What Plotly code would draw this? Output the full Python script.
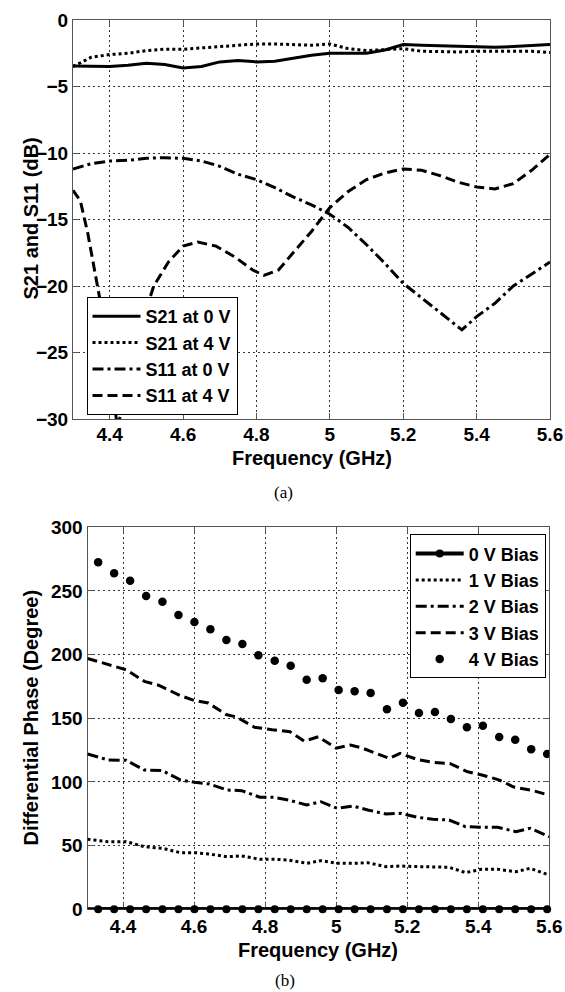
import plotly.graph_objects as go

# ---------------- Panel (a) data ----------------
f_s21_0v = [4.30, 4.35, 4.40, 4.45, 4.50, 4.55, 4.60, 4.65, 4.70, 4.75, 4.80, 4.85, 4.90, 4.95,
            5.00, 5.05, 5.10, 5.15, 5.20, 5.25, 5.30, 5.35, 5.40, 5.45, 5.50, 5.55, 5.60]
s21_0v = [-3.45, -3.5, -3.5, -3.4, -3.25, -3.35, -3.6, -3.5, -3.15, -3.05, -3.15, -3.1, -2.85, -2.65,
          -2.5, -2.5, -2.5, -2.25, -1.85, -1.9, -1.95, -2.0, -2.05, -2.05, -2.0, -1.9, -1.85]

f_s21_4v = [4.30, 4.35, 4.40, 4.45, 4.50, 4.55, 4.60, 4.65, 4.70, 4.75, 4.80, 4.85, 4.90, 4.95,
            5.00, 5.05, 5.10, 5.15, 5.20, 5.25, 5.30, 5.35, 5.40, 5.45, 5.50, 5.55, 5.60]
s21_4v = [-3.5, -2.8, -2.6, -2.5, -2.3, -2.2, -2.2, -2.1, -1.95, -1.85, -1.8, -1.8, -1.85, -1.9,
          -1.8, -2.15, -2.3, -2.25, -2.15, -2.35, -2.4, -2.4, -2.35, -2.35, -2.3, -2.35, -2.45]

f_s11_0v = [4.30, 4.35, 4.40, 4.45, 4.50, 4.55, 4.60, 4.65, 4.70, 4.75, 4.80, 4.85, 4.90, 4.95,
            5.00, 5.05, 5.10, 5.15, 5.20, 5.25, 5.30, 5.36, 5.40, 5.45, 5.50, 5.55, 5.60]
s11_0v = [-11.2, -10.8, -10.6, -10.55, -10.4, -10.35, -10.4, -10.6, -11.0, -11.6, -12.0, -12.6, -13.3, -13.9,
          -14.6, -15.6, -16.9, -18.3, -19.8, -20.9, -22.0, -23.3, -22.3, -21.3, -20.0, -19.1, -18.2]

f_s11_4v = [4.30, 4.32, 4.34, 4.36, 4.38, 4.40, 4.42, 4.44, 4.46, 4.48, 4.50, 4.52, 4.56, 4.60, 4.64,
            4.69, 4.74, 4.79, 4.82, 4.86, 4.90, 4.95, 5.00, 5.05, 5.10, 5.15, 5.20, 5.25, 5.30, 5.35,
            5.40, 5.45, 5.50, 5.55, 5.60]
s11_4v = [-12.8, -13.6, -16.0, -19.0, -22.0, -25.5, -30.5, -29.0, -26.0, -23.5, -21.8, -20.0, -18.2, -17.0, -16.7,
          -17.0, -17.8, -18.8, -19.2, -18.8, -17.5, -15.9, -14.1, -12.9, -12.0, -11.5, -11.2, -11.3, -11.7, -12.2,
          -12.55, -12.7, -12.3, -11.3, -10.1]

xticks_a = [4.4, 4.6, 4.8, 5.0, 5.2, 5.4, 5.6]
xticktext_a = ["4.4", "4.6", "4.8", "5", "5.2", "5.4", "5.6"]
yticks_a = [0, -5, -10, -15, -20, -25, -30]

# ---------------- Panel (b) data ----------------
f_marker = [4.330, 4.375, 4.420, 4.465, 4.511, 4.556, 4.601, 4.646, 4.691, 4.736, 4.781, 4.827, 4.872,
            4.917, 4.962, 5.007, 5.052, 5.097, 5.143, 5.188, 5.233, 5.278, 5.323, 5.368, 5.413,
            5.459, 5.504, 5.549, 5.594]
bias_0v = [0] * 29
f_line_0v = [4.30, 5.60]
bias_0v_line = [0, 0]

f_dots = [4.330, 4.375, 4.420, 4.465, 4.511, 4.556, 4.601, 4.646, 4.691, 4.736, 4.781, 4.827, 4.872,
          4.917, 4.962, 5.007, 5.052, 5.097, 5.143, 5.188, 5.233, 5.278, 5.323, 5.368, 5.413,
          5.459, 5.504, 5.549, 5.594]
bias_4v = [272.5, 263.9, 258.1, 246.1, 241.6, 231.1, 225.6, 219.9, 211.5, 208.4, 199.5, 195.2, 191.3,
           180.3, 181.4, 172.2, 171.2, 169.9, 157.1, 162.3, 154.2, 155.0, 149.5, 142.9, 144.2,
           135.3, 133.2, 125.7, 122.0]

f_b = [4.30, 4.358, 4.409, 4.460, 4.511, 4.561, 4.602, 4.643, 4.693, 4.734, 4.785, 4.825, 4.866, 4.917,
       4.957, 5.003, 5.048, 5.089, 5.140, 5.181, 5.231, 5.272, 5.318, 5.364, 5.409, 5.455, 5.506,
       5.546, 5.60]
bias_1v = [55.0, 53.1, 53.1, 49.2, 47.9, 44.5, 44.5, 43.4, 41.3, 41.9, 39.3, 39.3, 38.7, 36.1,
           38.2, 36.1, 36.1, 36.6, 33.5, 34.0, 33.5, 33.0, 33.0, 28.8, 31.4, 31.4, 29.5,
           32.2, 26.9]
bias_2v = [122.0, 117.3, 117.0, 109.4, 108.9, 101.6, 99.7, 98.4, 93.7, 93.2, 88.0, 88.0, 85.8, 81.9,
           84.5, 79.3, 81.1, 78.0, 74.8, 75.4, 72.2, 70.7, 70.1, 64.9, 64.4, 64.4, 61.0,
           63.6, 57.0]

f_3v = [4.30, 4.36, 4.41, 4.46, 4.50, 4.56, 4.60, 4.64, 4.69, 4.72, 4.77, 4.82, 4.87, 4.91, 4.95,
        5.00, 5.04, 5.07, 5.15, 5.18, 5.23, 5.27, 5.32, 5.37, 5.41, 5.46, 5.50, 5.55, 5.60]
bias_3v = [197.0, 192.0, 188.0, 179.0, 176.0, 168.0, 164.0, 162.0, 153.0, 151.0, 143.0, 141.0, 139.5, 132.0, 135.5,
           126.5, 129.0, 127.0, 118.5, 122.5, 117.5, 115.5, 114.5, 108.0, 105.5, 101.5, 96.0, 93.5, 89.5]

xticks_b = [4.4, 4.6, 4.8, 5.0, 5.2, 5.4, 5.6]
xticktext_b = ["4.4", "4.6", "4.8", "5", "5.2", "5.4", "5.6"]
yticks_b = [0, 50, 100, 150, 200, 250, 300]

x_title = "Frequency (GHz)"
y_title_a = "S21 and S11 (dB)"
y_title_b = "Differential Phase (Degree)"

# ---------------- figure ----------------
W, H = 565, 992
FONT = "Liberation Sans, Arial, sans-serif"
SERIF = "Liberation Serif, Times New Roman, serif"
BLACK = "black"
LW = 3

fig = go.Figure()

# panel (a)
fig.add_trace(go.Scatter(x=f_s21_0v, y=s21_0v, mode="lines", name="S21 at 0 V",
                         line=dict(color=BLACK, width=LW), xaxis="x", yaxis="y", legend="legend"))
fig.add_trace(go.Scatter(x=f_s21_4v, y=s21_4v, mode="lines", name="S21 at 4 V",
                         line=dict(color=BLACK, width=LW, dash="3px,3px"), xaxis="x", yaxis="y", legend="legend"))
fig.add_trace(go.Scatter(x=f_s11_0v, y=s11_0v, mode="lines", name="S11 at 0 V",
                         line=dict(color=BLACK, width=LW, dash="11px,4px,3px,4px"), xaxis="x", yaxis="y", legend="legend"))
fig.add_trace(go.Scatter(x=f_s11_4v, y=s11_4v, mode="lines", name="S11 at 4 V",
                         line=dict(color=BLACK, width=LW, dash="10px,5px"), xaxis="x", yaxis="y", legend="legend"))

# panel (b)
fig.add_trace(go.Scatter(x=f_line_0v, y=bias_0v_line, mode="lines", showlegend=False, hoverinfo="skip",
                         line=dict(color=BLACK, width=4), xaxis="x2", yaxis="y2"))
fig.add_trace(go.Scatter(x=f_marker, y=bias_0v, mode="lines+markers", name="0 V Bias", cliponaxis=False,
                         line=dict(color=BLACK, width=4),
                         marker=dict(color=BLACK, size=8, line=dict(width=0)),
                         xaxis="x2", yaxis="y2", legend="legend2"))
fig.add_trace(go.Scatter(x=f_b, y=bias_1v, mode="lines", name="1 V Bias",
                         line=dict(color=BLACK, width=LW, dash="3px,3px"), xaxis="x2", yaxis="y2", legend="legend2"))
fig.add_trace(go.Scatter(x=f_b, y=bias_2v, mode="lines", name="2 V Bias",
                         line=dict(color=BLACK, width=LW, dash="11px,4px,3px,4px"), xaxis="x2", yaxis="y2", legend="legend2"))
fig.add_trace(go.Scatter(x=f_3v, y=bias_3v, mode="lines", name="3 V Bias",
                         line=dict(color=BLACK, width=LW, dash="10px,5px"), xaxis="x2", yaxis="y2", legend="legend2"))
fig.add_trace(go.Scatter(x=f_dots, y=bias_4v, mode="markers", name="4 V Bias",
                         marker=dict(color=BLACK, size=8.5), xaxis="x2", yaxis="y2", legend="legend2"))

AXCOL = "#555555"
GRIDCOL = "#333333"


def axis_common(size):
    return dict(showline=True, linecolor=AXCOL, linewidth=1, mirror="ticks",
                ticks="inside", ticklen=6, tickcolor=AXCOL, tickwidth=1,
                showgrid=True, gridcolor=GRIDCOL, gridwidth=1, griddash="2px,3px",
                zeroline=False, layer="below traces",
                tickfont=dict(family=FONT, size=size, color=BLACK, weight="bold"),
                automargin=False)


def px_x(p):
    return p / W


def px_y(p):
    return 1 - p / H


title_font = dict(family=FONT, size=20, color=BLACK, weight="bold")
legend_font = dict(family=FONT, size=18, color=BLACK, weight="bold")
caption_font = dict(family=SERIF, size=17, color=BLACK)


def note(text, x, y, font, angle=0):
    return dict(text=text, x=px_x(x), y=px_y(y), xref="paper", yref="paper",
                xanchor="center", yanchor="middle", textangle=angle,
                showarrow=False, font=font)


fig.update_layout(
    width=W, height=H,
    margin=dict(l=0, r=0, t=0, b=0),
    paper_bgcolor="white", plot_bgcolor="white",
    font=dict(family=FONT, color=BLACK),
    xaxis=dict(domain=[px_x(73), px_x(550)], anchor="y", range=[4.3, 5.6],
               tickvals=xticks_a, ticktext=xticktext_a, ticklabelstandoff=-2, **axis_common(19)),
    yaxis=dict(domain=[px_y(419), px_y(20)], anchor="x", range=[-30, 0],
               tickvals=yticks_a, **axis_common(19)),
    xaxis2=dict(domain=[px_x(87.5), px_x(549.3)], anchor="y2", range=[4.3, 5.6],
                tickvals=xticks_b, ticktext=xticktext_b, **axis_common(19)),
    yaxis2=dict(domain=[px_y(909.3), px_y(527.3)], anchor="x2", range=[0, 300],
                tickvals=yticks_b, **axis_common(19)),
    legend=dict(x=px_x(86.5), y=px_y(415), xanchor="left", yanchor="bottom",
                bgcolor="white", bordercolor=BLACK, borderwidth=1, itemwidth=48,
                font=legend_font, tracegroupgap=0),
    legend2=dict(x=px_x(545.7), y=px_y(534.3), xanchor="right", yanchor="top",
                 bgcolor="white", bordercolor=BLACK, borderwidth=1, itemwidth=48,
                 font=legend_font, tracegroupgap=0),
    annotations=[
        note(x_title, 311.5, 458, title_font),
        note(y_title_a, 30.5, 219, title_font, -90),
        note(x_title, 318, 950, title_font),
        note(y_title_b, 30.5, 718, title_font, -90),
        note("(a)", 283, 492, caption_font),
        note("(b)", 285, 980, caption_font),
    ],
)

# the page body has a default 8 px margin; remove it so the 565x992 figure fills the window exactly
fig.write_html("out.html",
               config={"displayModeBar": False},
               post_script="document.body.style.margin='0';document.body.style.overflow='hidden';")
